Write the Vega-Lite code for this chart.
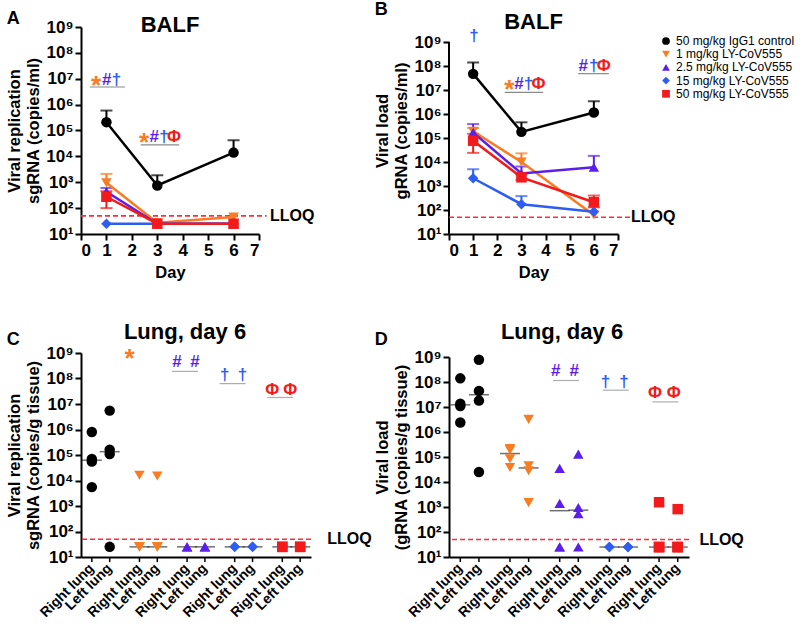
{
  "$schema": "https://vega.github.io/schema/vega-lite/v6.json",
  "padding": {"left": 6, "top": 1, "right": 0, "bottom": 0},
  "datasets": {
    "balf": [
      {"panel": "A", "group": "50 mg/kg IgG1 control", "day": 1, "mean": 210000, "lo": 210000, "hi": 590000},
      {"panel": "A", "group": "50 mg/kg IgG1 control", "day": 3, "mean": 750, "lo": 750, "hi": 1860},
      {"panel": "A", "group": "50 mg/kg IgG1 control", "day": 6, "mean": 14000, "lo": 14000, "hi": 42000},
      {"panel": "A", "group": "1 mg/kg LY-CoV555", "day": 1, "mean": 950, "lo": 950, "hi": 2100},
      {"panel": "A", "group": "1 mg/kg LY-CoV555", "day": 3, "mean": 27, "lo": 27, "hi": 27},
      {"panel": "A", "group": "1 mg/kg LY-CoV555", "day": 6, "mean": 45, "lo": 45, "hi": 45},
      {"panel": "A", "group": "2.5 mg/kg LY-CoV555", "day": 1, "mean": 430, "lo": 430, "hi": 600},
      {"panel": "A", "group": "2.5 mg/kg LY-CoV555", "day": 3, "mean": 25, "lo": 25, "hi": 25},
      {"panel": "A", "group": "2.5 mg/kg LY-CoV555", "day": 6, "mean": 25, "lo": 25, "hi": 25},
      {"panel": "A", "group": "15 mg/kg LY-CoV555", "day": 1, "mean": 25, "lo": 25, "hi": 25},
      {"panel": "A", "group": "15 mg/kg LY-CoV555", "day": 3, "mean": 25, "lo": 25, "hi": 25},
      {"panel": "A", "group": "15 mg/kg LY-CoV555", "day": 6, "mean": 25, "lo": 25, "hi": 25},
      {"panel": "A", "group": "50 mg/kg LY-CoV555", "day": 1, "mean": 275, "lo": 100, "hi": 450},
      {"panel": "A", "group": "50 mg/kg LY-CoV555", "day": 3, "mean": 25, "lo": 25, "hi": 25},
      {"panel": "A", "group": "50 mg/kg LY-CoV555", "day": 6, "mean": 25, "lo": 25, "hi": 25},
      {"panel": "B", "group": "50 mg/kg IgG1 control", "day": 1, "mean": 47000000, "lo": 47000000, "hi": 140000000},
      {"panel": "B", "group": "50 mg/kg IgG1 control", "day": 3, "mean": 180000, "lo": 180000, "hi": 450000},
      {"panel": "B", "group": "50 mg/kg IgG1 control", "day": 6, "mean": 1150000, "lo": 1150000, "hi": 3400000},
      {"panel": "B", "group": "1 mg/kg LY-CoV555", "day": 1, "mean": 190000, "lo": 190000, "hi": 260000},
      {"panel": "B", "group": "1 mg/kg LY-CoV555", "day": 3, "mean": 10000, "lo": 10000, "hi": 23000},
      {"panel": "B", "group": "1 mg/kg LY-CoV555", "day": 6, "mean": 62, "lo": 62, "hi": 62},
      {"panel": "B", "group": "2.5 mg/kg LY-CoV555", "day": 1, "mean": 170000, "lo": 170000, "hi": 380000},
      {"panel": "B", "group": "2.5 mg/kg LY-CoV555", "day": 3, "mean": 3300, "lo": 3300, "hi": 6500},
      {"panel": "B", "group": "2.5 mg/kg LY-CoV555", "day": 6, "mean": 6000, "lo": 6000, "hi": 18000},
      {"panel": "B", "group": "15 mg/kg LY-CoV555", "day": 1, "mean": 2100, "lo": 2100, "hi": 5000},
      {"panel": "B", "group": "15 mg/kg LY-CoV555", "day": 3, "mean": 175, "lo": 175, "hi": 380},
      {"panel": "B", "group": "15 mg/kg LY-CoV555", "day": 6, "mean": 85, "lo": 85, "hi": 85},
      {"panel": "B", "group": "50 mg/kg LY-CoV555", "day": 1, "mean": 77000, "lo": 24000, "hi": 150000},
      {"panel": "B", "group": "50 mg/kg LY-CoV555", "day": 3, "mean": 2300, "lo": 1800, "hi": 3000},
      {"panel": "B", "group": "50 mg/kg LY-CoV555", "day": 6, "mean": 210, "lo": 130, "hi": 400}
    ],
    "lung": [
      {"panel": "C", "group": "50 mg/kg IgG1 control", "side": "Right lung", "value": 800000},
      {"panel": "C", "group": "50 mg/kg IgG1 control", "side": "Right lung", "value": 70000},
      {"panel": "C", "group": "50 mg/kg IgG1 control", "side": "Right lung", "value": 55000},
      {"panel": "C", "group": "50 mg/kg IgG1 control", "side": "Right lung", "value": 5500},
      {"panel": "C", "group": "50 mg/kg IgG1 control", "side": "Left lung", "value": 5500000},
      {"panel": "C", "group": "50 mg/kg IgG1 control", "side": "Left lung", "value": 160000},
      {"panel": "C", "group": "50 mg/kg IgG1 control", "side": "Left lung", "value": 110000},
      {"panel": "C", "group": "50 mg/kg IgG1 control", "side": "Left lung", "value": 25},
      {"panel": "C", "group": "1 mg/kg LY-CoV555", "side": "Right lung", "value": 16000},
      {"panel": "C", "group": "1 mg/kg LY-CoV555", "side": "Right lung", "value": 25},
      {"panel": "C", "group": "1 mg/kg LY-CoV555", "side": "Right lung", "value": 25},
      {"panel": "C", "group": "1 mg/kg LY-CoV555", "side": "Right lung", "value": 25},
      {"panel": "C", "group": "1 mg/kg LY-CoV555", "side": "Left lung", "value": 15000},
      {"panel": "C", "group": "1 mg/kg LY-CoV555", "side": "Left lung", "value": 25},
      {"panel": "C", "group": "1 mg/kg LY-CoV555", "side": "Left lung", "value": 25},
      {"panel": "C", "group": "1 mg/kg LY-CoV555", "side": "Left lung", "value": 25},
      {"panel": "C", "group": "2.5 mg/kg LY-CoV555", "side": "Right lung", "value": 25},
      {"panel": "C", "group": "2.5 mg/kg LY-CoV555", "side": "Right lung", "value": 25},
      {"panel": "C", "group": "2.5 mg/kg LY-CoV555", "side": "Left lung", "value": 25},
      {"panel": "C", "group": "2.5 mg/kg LY-CoV555", "side": "Left lung", "value": 25},
      {"panel": "C", "group": "15 mg/kg LY-CoV555", "side": "Right lung", "value": 25},
      {"panel": "C", "group": "15 mg/kg LY-CoV555", "side": "Right lung", "value": 25},
      {"panel": "C", "group": "15 mg/kg LY-CoV555", "side": "Left lung", "value": 25},
      {"panel": "C", "group": "15 mg/kg LY-CoV555", "side": "Left lung", "value": 25},
      {"panel": "C", "group": "50 mg/kg LY-CoV555", "side": "Right lung", "value": 25},
      {"panel": "C", "group": "50 mg/kg LY-CoV555", "side": "Right lung", "value": 25},
      {"panel": "C", "group": "50 mg/kg LY-CoV555", "side": "Left lung", "value": 25},
      {"panel": "C", "group": "50 mg/kg LY-CoV555", "side": "Left lung", "value": 25},
      {"panel": "D", "group": "50 mg/kg IgG1 control", "side": "Right lung", "value": 140000000},
      {"panel": "D", "group": "50 mg/kg IgG1 control", "side": "Right lung", "value": 13500000},
      {"panel": "D", "group": "50 mg/kg IgG1 control", "side": "Right lung", "value": 11000000},
      {"panel": "D", "group": "50 mg/kg IgG1 control", "side": "Right lung", "value": 2400000},
      {"panel": "D", "group": "50 mg/kg IgG1 control", "side": "Left lung", "value": 780000000},
      {"panel": "D", "group": "50 mg/kg IgG1 control", "side": "Left lung", "value": 44000000},
      {"panel": "D", "group": "50 mg/kg IgG1 control", "side": "Left lung", "value": 18000000},
      {"panel": "D", "group": "50 mg/kg IgG1 control", "side": "Left lung", "value": 25000},
      {"panel": "D", "group": "1 mg/kg LY-CoV555", "side": "Right lung", "value": 220000},
      {"panel": "D", "group": "1 mg/kg LY-CoV555", "side": "Right lung", "value": 190000},
      {"panel": "D", "group": "1 mg/kg LY-CoV555", "side": "Right lung", "value": 85000},
      {"panel": "D", "group": "1 mg/kg LY-CoV555", "side": "Right lung", "value": 38000},
      {"panel": "D", "group": "1 mg/kg LY-CoV555", "side": "Left lung", "value": 3200000},
      {"panel": "D", "group": "1 mg/kg LY-CoV555", "side": "Left lung", "value": 45000},
      {"panel": "D", "group": "1 mg/kg LY-CoV555", "side": "Left lung", "value": 28000},
      {"panel": "D", "group": "1 mg/kg LY-CoV555", "side": "Left lung", "value": 1500},
      {"panel": "D", "group": "2.5 mg/kg LY-CoV555", "side": "Right lung", "value": 35000},
      {"panel": "D", "group": "2.5 mg/kg LY-CoV555", "side": "Right lung", "value": 1400},
      {"panel": "D", "group": "2.5 mg/kg LY-CoV555", "side": "Right lung", "value": 25},
      {"panel": "D", "group": "2.5 mg/kg LY-CoV555", "side": "Right lung", "value": 25},
      {"panel": "D", "group": "2.5 mg/kg LY-CoV555", "side": "Left lung", "value": 130000},
      {"panel": "D", "group": "2.5 mg/kg LY-CoV555", "side": "Left lung", "value": 950},
      {"panel": "D", "group": "2.5 mg/kg LY-CoV555", "side": "Left lung", "value": 540},
      {"panel": "D", "group": "2.5 mg/kg LY-CoV555", "side": "Left lung", "value": 25},
      {"panel": "D", "group": "15 mg/kg LY-CoV555", "side": "Right lung", "value": 25},
      {"panel": "D", "group": "15 mg/kg LY-CoV555", "side": "Right lung", "value": 25},
      {"panel": "D", "group": "15 mg/kg LY-CoV555", "side": "Left lung", "value": 25},
      {"panel": "D", "group": "15 mg/kg LY-CoV555", "side": "Left lung", "value": 25},
      {"panel": "D", "group": "50 mg/kg LY-CoV555", "side": "Right lung", "value": 1550},
      {"panel": "D", "group": "50 mg/kg LY-CoV555", "side": "Right lung", "value": 25},
      {"panel": "D", "group": "50 mg/kg LY-CoV555", "side": "Right lung", "value": 25},
      {"panel": "D", "group": "50 mg/kg LY-CoV555", "side": "Right lung", "value": 25},
      {"panel": "D", "group": "50 mg/kg LY-CoV555", "side": "Left lung", "value": 820},
      {"panel": "D", "group": "50 mg/kg LY-CoV555", "side": "Left lung", "value": 25},
      {"panel": "D", "group": "50 mg/kg LY-CoV555", "side": "Left lung", "value": 25},
      {"panel": "D", "group": "50 mg/kg LY-CoV555", "side": "Left lung", "value": 25}
    ],
    "sigDay": [
      {"panel": "A", "group": "1 mg/kg LY-CoV555", "sym": "*", "x": 0.59, "y": 9000000},
      {"panel": "A", "group": "2.5 mg/kg LY-CoV555", "sym": "#", "x": 1.01, "y": 9000000},
      {"panel": "A", "group": "15 mg/kg LY-CoV555", "sym": "†", "x": 1.4, "y": 9000000},
      {"panel": "A", "group": "1 mg/kg LY-CoV555", "sym": "*", "x": 2.48, "y": 55000},
      {"panel": "A", "group": "2.5 mg/kg LY-CoV555", "sym": "#", "x": 2.88, "y": 55000},
      {"panel": "A", "group": "15 mg/kg LY-CoV555", "sym": "†", "x": 3.26, "y": 55000},
      {"panel": "A", "group": "50 mg/kg LY-CoV555", "sym": "Φ", "x": 3.66, "y": 55000},
      {"panel": "B", "group": "15 mg/kg LY-CoV555", "sym": "†", "x": 1.04, "y": 1700000000},
      {"panel": "B", "group": "1 mg/kg LY-CoV555", "sym": "*", "x": 2.5, "y": 17000000},
      {"panel": "B", "group": "2.5 mg/kg LY-CoV555", "sym": "#", "x": 2.9, "y": 17000000},
      {"panel": "B", "group": "15 mg/kg LY-CoV555", "sym": "†", "x": 3.29, "y": 17000000},
      {"panel": "B", "group": "50 mg/kg LY-CoV555", "sym": "Φ", "x": 3.71, "y": 17000000},
      {"panel": "B", "group": "2.5 mg/kg LY-CoV555", "sym": "#", "x": 5.56, "y": 97000000},
      {"panel": "B", "group": "15 mg/kg LY-CoV555", "sym": "†", "x": 5.99, "y": 97000000},
      {"panel": "B", "group": "50 mg/kg LY-CoV555", "sym": "Φ", "x": 6.41, "y": 97000000}
    ],
    "ulDay": [
      {"panel": "A", "x0": 0.35, "x1": 1.73, "y": 4800000},
      {"panel": "A", "x0": 2.35, "x1": 3.86, "y": 28000},
      {"panel": "B", "x0": 2.31, "x1": 3.9, "y": 8000000},
      {"panel": "B", "x0": 5.35, "x1": 6.62, "y": 48000000}
    ],
    "sigLung": [
      {"panel": "C", "group": "1 mg/kg LY-CoV555", "side": "Right lung", "sym": "*", "y": 1000000000},
      {"panel": "C", "group": "2.5 mg/kg LY-CoV555", "side": "Right lung", "sym": "#", "y": 450000000},
      {"panel": "C", "group": "2.5 mg/kg LY-CoV555", "side": "Left lung", "sym": "#", "y": 450000000},
      {"panel": "C", "group": "15 mg/kg LY-CoV555", "side": "Right lung", "sym": "†", "y": 140000000},
      {"panel": "C", "group": "15 mg/kg LY-CoV555", "side": "Left lung", "sym": "†", "y": 140000000},
      {"panel": "C", "group": "50 mg/kg LY-CoV555", "side": "Right lung", "sym": "Φ", "y": 35000000},
      {"panel": "C", "group": "50 mg/kg LY-CoV555", "side": "Left lung", "sym": "Φ", "y": 35000000},
      {"panel": "D", "group": "2.5 mg/kg LY-CoV555", "side": "Right lung", "sym": "#", "y": 270000000},
      {"panel": "D", "group": "2.5 mg/kg LY-CoV555", "side": "Left lung", "sym": "#", "y": 270000000},
      {"panel": "D", "group": "15 mg/kg LY-CoV555", "side": "Right lung", "sym": "†", "y": 100000000},
      {"panel": "D", "group": "15 mg/kg LY-CoV555", "side": "Left lung", "sym": "†", "y": 100000000},
      {"panel": "D", "group": "50 mg/kg LY-CoV555", "side": "Right lung", "sym": "Φ", "y": 38000000},
      {"panel": "D", "group": "50 mg/kg LY-CoV555", "side": "Left lung", "sym": "Φ", "y": 38000000}
    ],
    "ulLung": [
      {"panel": "C", "group": "2.5 mg/kg LY-CoV555", "y": 190000000},
      {"panel": "C", "group": "15 mg/kg LY-CoV555", "y": 63000000},
      {"panel": "C", "group": "50 mg/kg LY-CoV555", "y": 18000000},
      {"panel": "D", "group": "2.5 mg/kg LY-CoV555", "y": 115000000},
      {"panel": "D", "group": "15 mg/kg LY-CoV555", "y": 47000000},
      {"panel": "D", "group": "50 mg/kg LY-CoV555", "y": 16000000}
    ],
    "heads": [
      {"panel": "A", "label": "BALF", "x": 3.5, "y": 1200000000},
      {"panel": "B", "label": "BALF", "x": 3.5, "y": 6800000000},
      {"panel": "C", "label": "Lung, day 6", "group": "2.5 mg/kg LY-CoV555", "y": 6700000000},
      {"panel": "D", "label": "Lung, day 6", "group": "2.5 mg/kg LY-CoV555", "y": 10000000000}
    ]
  },
  "spacing": 2,
  "resolve": {"scale": {"xOffset": "independent"}},
  "hconcat": [
    {
      "spacing": 39,
      "resolve": {"scale": {"xOffset": "independent"}},
      "vconcat": [
        {
          "width": 178, "height": 207,
          "title": {"text": "A", "anchor": "start", "frame": "bounds", "fontSize": 18, "offset": -14},
          "layer": [
            {"data": {"name": "heads"}, "transform": [{"filter": "datum.panel === 'A'"}],
             "mark": {"type": "text", "fontSize": 22, "fontWeight": "bold", "baseline": "middle"},
             "encoding": {"x": {"field": "x", "type": "quantitative"}, "y": {"field": "y", "type": "quantitative"}, "text": {"field": "label"}}},
            {"data": {"values": [{}]}, "mark": {"type": "rule", "strokeDash": [5, 3], "color": "#FF2B3A", "strokeWidth": 1.6},
             "encoding": {"x": {"datum": 0, "type": "quantitative"}, "x2": {"datum": 7.3}, "y": {"datum": 50, "type": "quantitative"}}},
            {"data": {"values": [{}]}, "mark": {"type": "text", "text": "LLOQ", "align": "left", "baseline": "middle", "dx": 11, "fontSize": 16, "fontWeight": "bold"},
             "encoding": {"x": {"datum": 7, "type": "quantitative"}, "y": {"datum": 50, "type": "quantitative"}}},
            {"data": {"name": "balf"}, "transform": [{"filter": "datum.panel === 'A' && datum.hi > datum.lo"}],
             "mark": {"type": "rule", "strokeWidth": 2},
             "encoding": {"x": {"field": "day", "type": "quantitative"}, "y": {"field": "lo", "type": "quantitative"}, "y2": {"field": "hi"},
               "stroke": {"field": "group", "type": "nominal", "legend": null, "scale": {"domain": ["50 mg/kg LY-CoV555", "15 mg/kg LY-CoV555", "2.5 mg/kg LY-CoV555", "1 mg/kg LY-CoV555", "50 mg/kg IgG1 control"], "range": ["#F21A1A", "#2D5DF2", "#5A1FEA", "#F97B22", "#000000"]}}}},
            {"data": {"name": "balf"}, "transform": [{"filter": "datum.panel === 'A' && datum.hi > datum.mean"}],
             "mark": {"type": "tick", "orient": "horizontal", "size": 12, "thickness": 2},
             "encoding": {"x": {"field": "day", "type": "quantitative"}, "y": {"field": "hi", "type": "quantitative"},
               "fill": {"field": "group", "type": "nominal", "legend": null, "scale": {"domain": ["50 mg/kg LY-CoV555", "15 mg/kg LY-CoV555", "2.5 mg/kg LY-CoV555", "1 mg/kg LY-CoV555", "50 mg/kg IgG1 control"], "range": ["#F21A1A", "#2D5DF2", "#5A1FEA", "#F97B22", "#000000"]}}}},
            {"data": {"name": "balf"}, "transform": [{"filter": "datum.panel === 'A' && datum.lo < datum.mean"}],
             "mark": {"type": "tick", "orient": "horizontal", "size": 12, "thickness": 2},
             "encoding": {"x": {"field": "day", "type": "quantitative"}, "y": {"field": "lo", "type": "quantitative"},
               "fill": {"field": "group", "type": "nominal", "legend": null}}},
            {"data": {"name": "balf"}, "transform": [{"filter": "datum.panel === 'A'"}],
             "mark": {"type": "line", "strokeWidth": 2.5},
             "encoding": {"x": {"field": "day", "type": "quantitative"}, "y": {"field": "mean", "type": "quantitative"},
               "stroke": {"field": "group", "type": "nominal", "legend": null}}},
            {"data": {"name": "balf"}, "transform": [{"filter": "datum.panel === 'A'"}],
             "mark": {"type": "point", "filled": true, "opacity": 1, "size": 110},
             "encoding": {
               "x": {"field": "day", "type": "quantitative", "scale": {"domain": [0, 7], "nice": false}, "axis": {"values": [0, 1, 2, 3, 4, 5, 6, 7], "tickCount": 8, "labelOverlap": false, "format": "d", "title": "Day", "titlePadding": 6}},
               "y": {"field": "mean", "type": "quantitative", "scale": {"type": "log", "domain": [10, 1000000000]}, "axis": {"values": [10, 100, 1000, 10000, 100000, 1000000, 10000000, 100000000, 1000000000], "labelExpr": "'10' + ['⁰','¹','²','³','⁴','⁵','⁶','⁷','⁸','⁹'][round(log(datum.value)/LN10)]", "title": ["Viral replication", "sgRNA (copies/ml)"], "titlePadding": 4}},
               "color": {"field": "group", "type": "nominal", "legend": {"title": null, "orient": "none", "legendX": 579, "legendY": 8}, "scale": {"domain": ["50 mg/kg IgG1 control", "1 mg/kg LY-CoV555", "2.5 mg/kg LY-CoV555", "15 mg/kg LY-CoV555", "50 mg/kg LY-CoV555"], "range": ["#000000", "#F97B22", "#5A1FEA", "#2D5DF2", "#F21A1A"]}},
               "shape": {"field": "group", "type": "nominal", "legend": {"title": null, "orient": "none", "legendX": 579, "legendY": 8}, "scale": {"domain": ["50 mg/kg IgG1 control", "1 mg/kg LY-CoV555", "2.5 mg/kg LY-CoV555", "15 mg/kg LY-CoV555", "50 mg/kg LY-CoV555"], "range": ["circle", "triangle-down", "triangle-up", "diamond", "square"]}}
             }},
            {"data": {"name": "sigDay"}, "transform": [{"filter": "datum.panel === 'A' && datum.sym !== '*'"}],
             "mark": {"type": "text", "fontSize": 17, "fontWeight": "bold", "baseline": "middle"},
             "encoding": {"x": {"field": "x", "type": "quantitative"}, "y": {"field": "y", "type": "quantitative"}, "text": {"field": "sym"},
               "fill": {"field": "group", "type": "nominal", "legend": null}}},
            {"data": {"name": "sigDay"}, "transform": [{"filter": "datum.panel === 'A' && datum.sym === '*'"}],
             "mark": {"type": "text", "fontSize": 26, "fontWeight": "bold", "baseline": "middle", "dy": 6},
             "encoding": {"x": {"field": "x", "type": "quantitative"}, "y": {"field": "y", "type": "quantitative"}, "text": {"field": "sym"},
               "fill": {"field": "group", "type": "nominal", "legend": null}}},
            {"data": {"name": "ulDay"}, "transform": [{"filter": "datum.panel === 'A'"}],
             "mark": {"type": "rule", "color": "#8a8a8a", "strokeWidth": 1.2},
             "encoding": {"x": {"field": "x0", "type": "quantitative"}, "x2": {"field": "x1"}, "y": {"field": "y", "type": "quantitative"}}}
          ]
        },
        {
          "width": 230, "height": 204,
          "title": {"text": "C", "anchor": "start", "frame": "bounds", "fontSize": 18, "offset": -28},
          "layer": [
            {"data": {"name": "heads"}, "transform": [{"filter": "datum.panel === 'C'"}],
             "mark": {"type": "text", "fontSize": 22, "fontWeight": "bold", "baseline": "middle", "dx": -11},
             "encoding": {"x": {"field": "group", "type": "nominal"}, "y": {"field": "y", "type": "quantitative"}, "text": {"field": "label"}}},
            {"data": {"values": [{}]}, "mark": {"type": "rule", "strokeDash": [5, 3], "color": "#FF2B3A", "strokeWidth": 1.6},
             "encoding": {"y": {"datum": 50, "type": "quantitative"}}},
            {"data": {"values": [{}]}, "mark": {"type": "text", "text": "LLOQ", "align": "left", "baseline": "middle", "dx": 36, "fontSize": 16, "fontWeight": "bold"},
             "encoding": {"x": {"datum": "50 mg/kg LY-CoV555", "type": "nominal"}, "y": {"datum": 50, "type": "quantitative"}}},
            {"data": {"name": "lung"}, "transform": [{"filter": "datum.panel === 'C'"}, {"aggregate": [{"op": "median", "field": "value", "as": "med"}], "groupby": ["group", "side"]}],
             "mark": {"type": "rule", "strokeWidth": 1.5, "color": "#000"},
             "encoding": {"x": {"field": "group", "type": "nominal"}, "xOffset": {"field": "side", "type": "nominal"}, "y": {"datum": 10, "type": "quantitative"}, "y2": {"datum": 6.3}}},
            {"data": {"name": "lung"}, "transform": [{"filter": "datum.panel === 'C'"}, {"aggregate": [{"op": "median", "field": "value", "as": "med"}], "groupby": ["group", "side"]}],
             "mark": {"type": "text", "angle": 315, "align": "right", "baseline": "middle", "fontSize": 14, "fontWeight": "bold"},
             "encoding": {"x": {"field": "group", "type": "nominal"}, "xOffset": {"field": "side", "type": "nominal"}, "y": {"datum": 4.3, "type": "quantitative"}, "text": {"field": "side"}}},
            {"data": {"name": "lung"}, "transform": [{"filter": "datum.panel === 'C'"}, {"aggregate": [{"op": "median", "field": "value", "as": "med"}], "groupby": ["group", "side"]}],
             "mark": {"type": "tick", "orient": "horizontal", "size": 20, "thickness": 1.5, "color": "#333"},
             "encoding": {"x": {"field": "group", "type": "nominal"}, "xOffset": {"field": "side", "type": "nominal"}, "y": {"field": "med", "type": "quantitative"}}},
            {"data": {"name": "lung"}, "transform": [{"filter": "datum.panel === 'C'"}],
             "mark": {"type": "point", "filled": true, "opacity": 1, "size": 110},
             "encoding": {
               "x": {"field": "group", "type": "nominal", "scale": {"domain": ["50 mg/kg IgG1 control", "1 mg/kg LY-CoV555", "2.5 mg/kg LY-CoV555", "15 mg/kg LY-CoV555", "50 mg/kg LY-CoV555"], "paddingInner": 0.25, "paddingOuter": 0.04}, "axis": {"labels": false, "ticks": false, "title": null}},
               "xOffset": {"field": "side", "type": "nominal", "scale": {"domain": ["Right lung", "Left lung"], "paddingInner": 0, "paddingOuter": 0}},
               "y": {"field": "value", "type": "quantitative", "scale": {"type": "log", "domain": [10, 1000000000]}, "axis": {"values": [10, 100, 1000, 10000, 100000, 1000000, 10000000, 100000000, 1000000000], "labelExpr": "'10' + ['⁰','¹','²','³','⁴','⁵','⁶','⁷','⁸','⁹'][round(log(datum.value)/LN10)]", "title": ["Viral replication", "sgRNA (copies/g tissue)"], "titlePadding": 4}},
               "color": {"field": "group", "type": "nominal", "legend": {"title": null, "orient": "none", "legendX": 579, "legendY": 8}},
               "shape": {"field": "group", "type": "nominal", "legend": {"title": null, "orient": "none", "legendX": 579, "legendY": 8}}
             }},
            {"data": {"name": "sigLung"}, "transform": [{"filter": "datum.panel === 'C' && datum.sym !== '*'"}],
             "mark": {"type": "text", "fontSize": 17, "fontWeight": "bold", "baseline": "middle", "dx": -10},
             "encoding": {"x": {"field": "group", "type": "nominal"}, "xOffset": {"field": "side", "type": "nominal"}, "y": {"field": "y", "type": "quantitative"}, "text": {"field": "sym"},
               "fill": {"field": "group", "type": "nominal", "legend": null}}},
            {"data": {"name": "sigLung"}, "transform": [{"filter": "datum.panel === 'C' && datum.sym === '*'"}],
             "mark": {"type": "text", "fontSize": 26, "fontWeight": "bold", "baseline": "middle", "dx": -10, "dy": 6},
             "encoding": {"x": {"field": "group", "type": "nominal"}, "xOffset": {"field": "side", "type": "nominal"}, "y": {"field": "y", "type": "quantitative"}, "text": {"field": "sym"},
               "fill": {"field": "group", "type": "nominal", "legend": null}}},
            {"data": {"name": "ulLung"}, "transform": [{"filter": "datum.panel === 'C'"}],
             "mark": {"type": "tick", "orient": "horizontal", "size": 26, "thickness": 1.2, "color": "#8a8a8a", "xOffset": -11},
             "encoding": {"x": {"field": "group", "type": "nominal"}, "y": {"field": "y", "type": "quantitative"}}}
          ]
        }
      ]
    },
    {
      "spacing": 40,
      "resolve": {"scale": {"xOffset": "independent"}},
      "vconcat": [
        {
          "width": 169, "height": 207,
          "title": {"text": "B", "anchor": "start", "frame": "bounds", "fontSize": 18, "offset": -8},
          "layer": [
            {"data": {"name": "heads"}, "transform": [{"filter": "datum.panel === 'B'"}],
             "mark": {"type": "text", "fontSize": 22, "fontWeight": "bold", "baseline": "middle"},
             "encoding": {"x": {"field": "x", "type": "quantitative"}, "y": {"field": "y", "type": "quantitative"}, "text": {"field": "label"}}},
            {"data": {"values": [{}]}, "mark": {"type": "rule", "color": "#000", "strokeWidth": 2},
             "encoding": {"x": {"datum": 0, "type": "quantitative"}, "y": {"datum": 10, "type": "quantitative"}, "y2": {"datum": 1000000000}}},
            {"data": {"values": [{}]}, "mark": {"type": "rule", "strokeDash": [5, 3], "color": "#FF2B3A", "strokeWidth": 1.6},
             "encoding": {"x": {"datum": 0, "type": "quantitative"}, "x2": {"datum": 7.5}, "y": {"datum": 50, "type": "quantitative"}}},
            {"data": {"values": [{}]}, "mark": {"type": "text", "text": "LLOQ", "align": "left", "baseline": "middle", "dx": 13, "fontSize": 16, "fontWeight": "bold"},
             "encoding": {"x": {"datum": 7, "type": "quantitative"}, "y": {"datum": 50, "type": "quantitative"}}},
            {"data": {"name": "balf"}, "transform": [{"filter": "datum.panel === 'B' && datum.hi > datum.lo"}],
             "mark": {"type": "rule", "strokeWidth": 2},
             "encoding": {"x": {"field": "day", "type": "quantitative"}, "y": {"field": "lo", "type": "quantitative"}, "y2": {"field": "hi"},
               "stroke": {"field": "group", "type": "nominal", "legend": null}}},
            {"data": {"name": "balf"}, "transform": [{"filter": "datum.panel === 'B' && datum.hi > datum.mean"}],
             "mark": {"type": "tick", "orient": "horizontal", "size": 12, "thickness": 2},
             "encoding": {"x": {"field": "day", "type": "quantitative"}, "y": {"field": "hi", "type": "quantitative"},
               "fill": {"field": "group", "type": "nominal", "legend": null}}},
            {"data": {"name": "balf"}, "transform": [{"filter": "datum.panel === 'B' && datum.lo < datum.mean"}],
             "mark": {"type": "tick", "orient": "horizontal", "size": 12, "thickness": 2},
             "encoding": {"x": {"field": "day", "type": "quantitative"}, "y": {"field": "lo", "type": "quantitative"},
               "fill": {"field": "group", "type": "nominal", "legend": null}}},
            {"data": {"name": "balf"}, "transform": [{"filter": "datum.panel === 'B'"}],
             "mark": {"type": "line", "strokeWidth": 2.5},
             "encoding": {"x": {"field": "day", "type": "quantitative"}, "y": {"field": "mean", "type": "quantitative"},
               "stroke": {"field": "group", "type": "nominal", "legend": null}}},
            {"data": {"name": "balf"}, "transform": [{"filter": "datum.panel === 'B'"}],
             "mark": {"type": "point", "filled": true, "opacity": 1, "size": 110},
             "encoding": {
               "x": {"field": "day", "type": "quantitative", "scale": {"domain": [0, 7], "nice": false}, "axis": {"values": [0, 1, 2, 3, 4, 5, 6, 7], "tickCount": 8, "labelOverlap": false, "format": "d", "title": "Day", "titlePadding": 6}},
               "y": {"field": "mean", "type": "quantitative", "scale": {"type": "log", "domain": [10, 4217000000], "nice": false}, "axis": {"domain": false, "values": [10, 100, 1000, 10000, 100000, 1000000, 10000000, 100000000, 1000000000], "labelExpr": "'10' + ['⁰','¹','²','³','⁴','⁵','⁶','⁷','⁸','⁹'][round(log(datum.value)/LN10)]", "title": ["Viral load", "gRNA (copies/ml)"], "titlePadding": 4}},
               "color": {"field": "group", "type": "nominal", "legend": {"title": null, "orient": "none", "legendX": 579, "legendY": 8}},
               "shape": {"field": "group", "type": "nominal", "legend": {"title": null, "orient": "none", "legendX": 579, "legendY": 8}}
             }},
            {"data": {"name": "sigDay"}, "transform": [{"filter": "datum.panel === 'B' && datum.sym !== '*'"}],
             "mark": {"type": "text", "fontSize": 17, "fontWeight": "bold", "baseline": "middle"},
             "encoding": {"x": {"field": "x", "type": "quantitative"}, "y": {"field": "y", "type": "quantitative"}, "text": {"field": "sym"},
               "fill": {"field": "group", "type": "nominal", "legend": null}}},
            {"data": {"name": "sigDay"}, "transform": [{"filter": "datum.panel === 'B' && datum.sym === '*'"}],
             "mark": {"type": "text", "fontSize": 26, "fontWeight": "bold", "baseline": "middle", "dy": 6},
             "encoding": {"x": {"field": "x", "type": "quantitative"}, "y": {"field": "y", "type": "quantitative"}, "text": {"field": "sym"},
               "fill": {"field": "group", "type": "nominal", "legend": null}}},
            {"data": {"name": "ulDay"}, "transform": [{"filter": "datum.panel === 'B'"}],
             "mark": {"type": "rule", "color": "#8a8a8a", "strokeWidth": 1.2},
             "encoding": {"x": {"field": "x0", "type": "quantitative"}, "x2": {"field": "x1"}, "y": {"field": "y", "type": "quantitative"}}}
          ]
        },
        {
          "width": 240, "height": 200,
          "title": {"text": "D", "anchor": "start", "frame": "bounds", "fontSize": 18, "offset": -28},
          "layer": [
            {"data": {"name": "heads"}, "transform": [{"filter": "datum.panel === 'D'"}],
             "mark": {"type": "text", "fontSize": 22, "fontWeight": "bold", "baseline": "middle", "dx": -7},
             "encoding": {"x": {"field": "group", "type": "nominal"}, "y": {"field": "y", "type": "quantitative"}, "text": {"field": "label"}}},
            {"data": {"values": [{}]}, "mark": {"type": "rule", "strokeDash": [5, 3], "color": "#FF2B3A", "strokeWidth": 1.6},
             "encoding": {"y": {"datum": 50, "type": "quantitative"}}},
            {"data": {"values": [{}]}, "mark": {"type": "text", "text": "LLOQ", "align": "left", "baseline": "middle", "dx": 31, "fontSize": 16, "fontWeight": "bold"},
             "encoding": {"x": {"datum": "50 mg/kg LY-CoV555", "type": "nominal"}, "y": {"datum": 50, "type": "quantitative"}}},
            {"data": {"name": "lung"}, "transform": [{"filter": "datum.panel === 'D'"}, {"aggregate": [{"op": "median", "field": "value", "as": "med"}], "groupby": ["group", "side"]}],
             "mark": {"type": "rule", "strokeWidth": 1.5, "color": "#000"},
             "encoding": {"x": {"field": "group", "type": "nominal"}, "xOffset": {"field": "side", "type": "nominal"}, "y": {"datum": 10, "type": "quantitative"}, "y2": {"datum": 6.3}}},
            {"data": {"name": "lung"}, "transform": [{"filter": "datum.panel === 'D'"}, {"aggregate": [{"op": "median", "field": "value", "as": "med"}], "groupby": ["group", "side"]}],
             "mark": {"type": "text", "angle": 315, "align": "right", "baseline": "middle", "fontSize": 14, "fontWeight": "bold"},
             "encoding": {"x": {"field": "group", "type": "nominal"}, "xOffset": {"field": "side", "type": "nominal"}, "y": {"datum": 4.3, "type": "quantitative"}, "text": {"field": "side"}}},
            {"data": {"name": "lung"}, "transform": [{"filter": "datum.panel === 'D'"}, {"aggregate": [{"op": "median", "field": "value", "as": "med"}], "groupby": ["group", "side"]}],
             "mark": {"type": "tick", "orient": "horizontal", "size": 20, "thickness": 1.5, "color": "#333"},
             "encoding": {"x": {"field": "group", "type": "nominal"}, "xOffset": {"field": "side", "type": "nominal"}, "y": {"field": "med", "type": "quantitative"}}},
            {"data": {"name": "lung"}, "transform": [{"filter": "datum.panel === 'D'"}],
             "mark": {"type": "point", "filled": true, "opacity": 1, "size": 110},
             "encoding": {
               "x": {"field": "group", "type": "nominal", "scale": {"domain": ["50 mg/kg IgG1 control", "1 mg/kg LY-CoV555", "2.5 mg/kg LY-CoV555", "15 mg/kg LY-CoV555", "50 mg/kg LY-CoV555"], "paddingInner": 0.25, "paddingOuter": 0.04}, "axis": {"labels": false, "ticks": false, "title": null}},
               "xOffset": {"field": "side", "type": "nominal", "scale": {"domain": ["Right lung", "Left lung"], "paddingInner": 0, "paddingOuter": 0}},
               "y": {"field": "value", "type": "quantitative", "scale": {"type": "log", "domain": [10, 1000000000]}, "axis": {"values": [10, 100, 1000, 10000, 100000, 1000000, 10000000, 100000000, 1000000000], "labelExpr": "'10' + ['⁰','¹','²','³','⁴','⁵','⁶','⁷','⁸','⁹'][round(log(datum.value)/LN10)]", "title": ["Viral load", "(gRNA (copies/g tissue)"], "titlePadding": 4}},
               "color": {"field": "group", "type": "nominal", "legend": {"title": null, "orient": "none", "legendX": 579, "legendY": 8}},
               "shape": {"field": "group", "type": "nominal", "legend": {"title": null, "orient": "none", "legendX": 579, "legendY": 8}}
             }},
            {"data": {"name": "sigLung"}, "transform": [{"filter": "datum.panel === 'D'"}],
             "mark": {"type": "text", "fontSize": 17, "fontWeight": "bold", "baseline": "middle", "dx": -4},
             "encoding": {"x": {"field": "group", "type": "nominal"}, "xOffset": {"field": "side", "type": "nominal"}, "y": {"field": "y", "type": "quantitative"}, "text": {"field": "sym"},
               "fill": {"field": "group", "type": "nominal", "legend": null}}},
            {"data": {"name": "ulLung"}, "transform": [{"filter": "datum.panel === 'D'"}],
             "mark": {"type": "tick", "orient": "horizontal", "size": 26, "thickness": 1.2, "color": "#8a8a8a", "xOffset": -3},
             "encoding": {"x": {"field": "group", "type": "nominal"}, "y": {"field": "y", "type": "quantitative"}}}
          ]
        }
      ]
    }
  ],
  "config": {
    "font": "Liberation Sans",
    "view": {"stroke": null},
    "title": {"font": "Liberation Sans", "fontWeight": "bold", "color": "#000"},
    "axis": {"labelFont": "Liberation Sans", "labelFontWeight": "bold", "labelFontSize": 17, "labelColor": "#000", "titleFont": "Liberation Sans", "titleFontWeight": "bold", "titleFontSize": 16.5, "titleColor": "#000", "titleLineHeight": 19, "domainColor": "#000", "domainWidth": 2, "tickColor": "#000", "tickWidth": 2, "tickSize": 6, "grid": false, "labelPadding": 2},
    "legend": {"labelFont": "Liberation Sans", "labelFontSize": 12, "labelColor": "#000", "symbolSize": 60, "rowPadding": 1.2, "symbolStrokeWidth": 0}
  }
}
